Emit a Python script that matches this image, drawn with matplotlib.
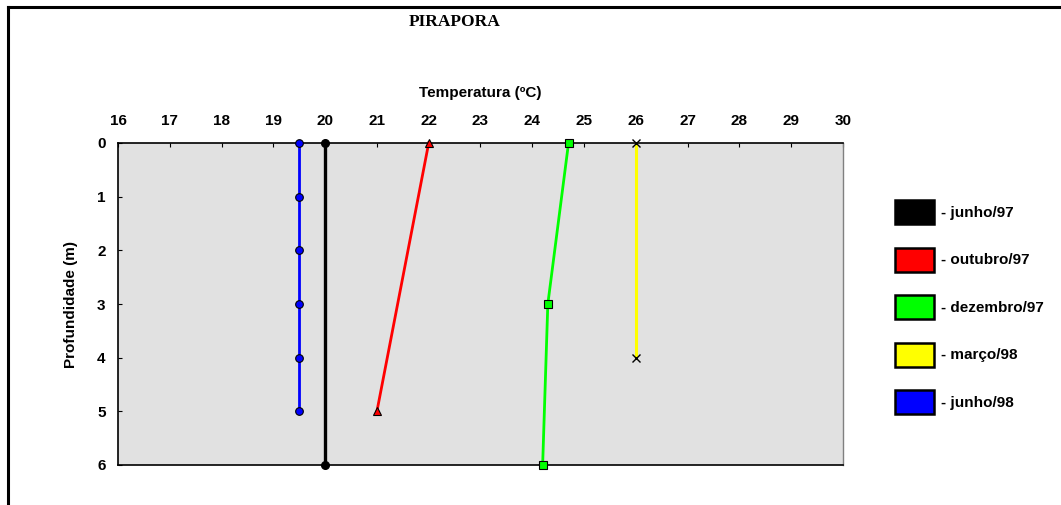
import matplotlib.pyplot as plt
from matplotlib.patches import Patch
from matplotlib.lines import Line2D

# temperature profiles (deg C) against depth (m)
prof_jun97 = [0, 6]
temp_jun97 = [20.0, 20.0]
prof_out97 = [0, 5]
temp_out97 = [22.0, 21.0]
prof_dez97 = [0, 3, 6]
temp_dez97 = [24.7, 24.3, 24.2]
prof_mar98 = [0, 4]
temp_mar98 = [26.0, 26.0]
prof_jun98 = [0, 1, 2, 3, 4, 5]
temp_jun98 = [19.5, 19.5, 19.5, 19.5, 19.5, 19.5]

labels = ['- junho/97', '- outubro/97', '- dezembro/97', '- março/98', '- junho/98']
colors = ['#000000', '#ff0000', '#00ff00', '#ffff00', '#0000ff']

plt.rcParams['font.family'] = ['Liberation Sans', 'DejaVu Sans']
plt.rcParams['font.weight'] = 'bold'

fig = plt.figure(figsize=(10.61, 5.05), dpi=100)
ax = fig.add_axes([118 / 1061, 1 - 465 / 505, 725 / 1061, 322 / 505])
ax.set_facecolor('#e1e1e1')

lw = 2.0
ax.plot(temp_jun98, prof_jun98, color=colors[4], lw=lw, marker='o', ms=5.5,
        mfc=colors[4], mec='black', mew=0.8, clip_on=False, zorder=3)
ax.plot(temp_jun97, prof_jun97, color=colors[0], lw=2.4, marker='o', ms=5.5,
        mfc='black', mec='black', clip_on=False, zorder=3)
ax.plot(temp_out97, prof_out97, color=colors[1], lw=lw, marker='^', ms=5.5,
        mfc=colors[1], mec='black', mew=0.8, clip_on=False, zorder=3)
ax.plot(temp_dez97, prof_dez97, color=colors[2], lw=lw, marker='s', ms=5.5,
        mfc=colors[2], mec='black', mew=0.8, clip_on=False, zorder=3)
ax.plot(temp_mar98, prof_mar98, color=colors[3], lw=2.2, marker='x', ms=5.5,
        mec='black', mew=1.0, clip_on=False, zorder=3)

ax.set_xlim(16, 30)
ax.set_ylim(6, 0)
ax.set_xticks(range(16, 31))
ax.set_yticks(range(0, 7))
ax.xaxis.tick_top()
ax.tick_params(axis='x', direction='in', length=3, width=0.8, pad=11, labelsize=11)
ax.tick_params(axis='y', direction='in', length=3, width=0.8, pad=9, labelsize=11)
for lab in ax.get_xticklabels() + ax.get_yticklabels():
    lab.set_fontweight('bold')

for side in ['top', 'bottom', 'left']:
    ax.spines[side].set_linewidth(1.2)
    ax.spines[side].set_color('black')
ax.spines['right'].set_color('#808080')
ax.spines['right'].set_linewidth(1.0)

ax.xaxis.set_label_position('top')
ax.set_xlabel('Temperatura (ºC)', fontsize=11, fontweight='bold', labelpad=12)
ax.set_ylabel('Profundidade (m)', fontsize=11, fontweight='bold', labelpad=14)

fig.text(455 / 1061, 1 - 22 / 505, 'PIRAPORA', ha='center', va='center',
         fontsize=12.5, fontweight='bold', family='Liberation Serif')

# outer frame lines (top and left only)
fig.add_artist(Line2D([8 / 1061, 1], [1 - 7 / 505, 1 - 7 / 505], color='black', lw=2.2))
fig.add_artist(Line2D([8 / 1061, 8 / 1061], [0, 1 - 7 / 505], color='black', lw=2.2))

handles = [Patch(facecolor=c, edgecolor='black', linewidth=1.8) for c in colors]
fig.legend(handles, labels, loc='upper left',
           bbox_to_anchor=(895 / 1061, 1 - 200 / 505), frameon=False,
           prop={'weight': 'bold', 'size': 11}, handlelength=2.55,
           handleheight=2.04, labelspacing=1.54, handletextpad=0.45, borderpad=0,
           borderaxespad=0)

fig.savefig('out.png', dpi=100)
